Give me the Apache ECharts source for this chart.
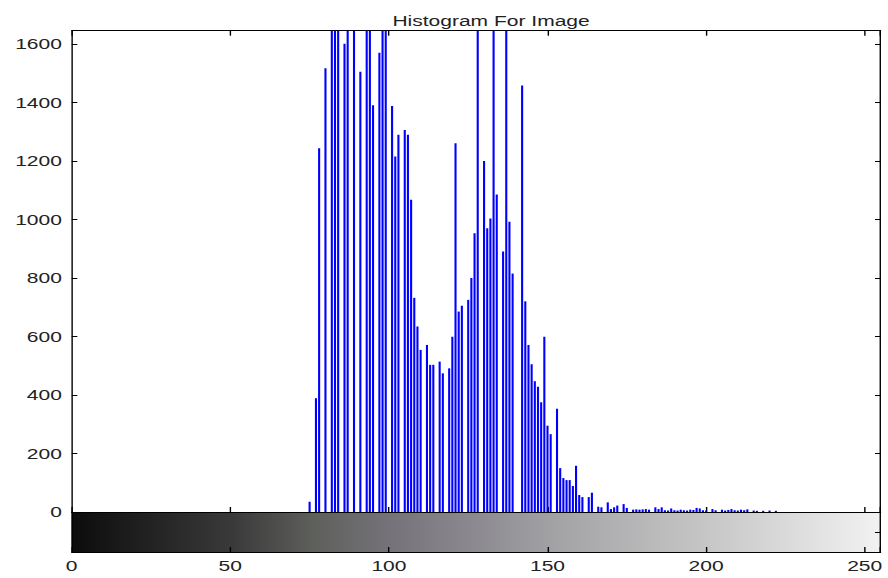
<!DOCTYPE html>
<html>
<head>
<meta charset="utf-8">
<script src="https://cdn.jsdelivr.net/npm/echarts@6/dist/echarts.min.js"></script>
<style>
html,body{margin:0;padding:0;background:#fff;overflow:hidden;}
#c{width:634px;height:578px;transform:scaleX(1.4006);transform-origin:0 0;}
</style>
</head>
<body>
<div id="c"></div>
<script>
// Gray levels (bins) that have counts, and their counts (values above 1645 are clipped in the view)
const binLevels = [
  75, 77, 78, 80, 82, 83, 84, 86, 87, 89, 91, 93, 94, 95, 97, 98, 99,
  101, 102, 103, 105, 106, 107, 108, 109, 110, 112, 113, 114, 116, 117, 119,
  120, 121, 122, 123, 125, 126, 127, 128, 130, 131, 132, 133, 134, 136, 137, 138, 139,
  142, 143, 144, 145, 146, 147, 148, 149, 150, 151, 153, 154, 155, 156, 157, 158, 159,
  160, 161, 163, 164, 166, 167, 169, 170, 171, 172, 174, 175, 177, 178, 179, 180, 181, 182,
  184, 185, 186, 187, 188, 189, 190, 191, 192, 193, 194, 195, 196, 197, 198, 199, 200,
  202, 203, 205, 206, 207, 208, 209, 210, 211, 212, 213, 215, 216, 218, 220, 222
];
const binCounts = [
  35, 389, 1243, 1517, 1900, 1750, 2000, 1600, 1800, 1700, 1505, 2100, 1850, 1390, 1570, 1680, 1780,
  1388, 1215, 1289, 1306, 1289, 1067, 732, 634, 554, 571, 503, 503, 514, 474, 491,
  599, 1260, 685, 705, 725, 800, 953, 1900, 1200, 970, 1003, 2000, 1085, 890, 1800, 992, 815,
  1458, 720, 571, 505, 447, 428, 375, 599, 295, 266, 353, 150, 116, 109, 109, 89, 158,
  58, 51, 51, 66, 18, 16, 33, 10, 16, 22, 27, 14, 8, 9, 8, 9, 10, 8,
  16, 10, 16, 6, 5, 12, 6, 5, 8, 6, 5, 8, 7, 14, 12, 6, 5,
  10, 6, 8, 5, 7, 10, 6, 5, 8, 6, 9, 5, 4, 4, 5, 4
];
const xTicks = [0, 50, 100, 150, 200, 250];
const yTickStep = 200;
const xMax = 255;
const yMax = 1645;

const chart = echarts.init(document.getElementById('c'), null, {renderer: 'svg'});
const font = 'Liberation Sans, Arial, Helvetica, sans-serif';
const black = '#000';

chart.setOption({
  backgroundColor: '#fff',
  animation: false,
  title: {
    text: 'Histogram For Image',
    left: 345.6,
    textAlign: 'center',
    top: 8,
    textStyle: {fontFamily: font, fontSize: 15, fontWeight: 'normal', color: '#222'}
  },
  grid: [
    {left: 51.2, right: 5.3, top: 30.7, bottom: 66, show: false},
    {
      left: 51.2, right: 5.3, top: 512, height: 40, show: true, borderWidth: 0,
      backgroundColor: {
        type: 'linear', x: 0, y: 0, x2: 1, y2: 0,
        colorStops: [
          {offset: 0, color: '#0c0c0c'},
          {offset: 0.2, color: '#3a3a3a'},
          {offset: 0.3, color: '#5e605c'},
          {offset: 0.4, color: '#77737b'},
          {offset: 0.5, color: '#8c8a90'},
          {offset: 0.6, color: '#a3a3a6'},
          {offset: 0.8, color: '#c9c9c9'},
          {offset: 1, color: '#f2f2f2'}
        ]
      }
    }
  ],
  xAxis: [
    {
      type: 'value', gridIndex: 0, min: 0, max: xMax, interval: 50, position: 'bottom',
      axisLine: {show: true, lineStyle: {color: black, width: 1}},
      axisTick: {show: true, inside: true, length: 5, lineStyle: {color: black}},
      axisLabel: {show: false}, splitLine: {show: false}
    },
    {
      type: 'value', gridIndex: 0, min: 0, max: xMax, interval: 50, position: 'top',
      axisLine: {show: true, onZero: false, lineStyle: {color: black, width: 1}},
      axisTick: {show: true, inside: true, length: 5, lineStyle: {color: black}},
      axisLabel: {show: false}, splitLine: {show: false}
    },
    {
      type: 'value', gridIndex: 1, min: 0, max: xMax, interval: 50, position: 'bottom',
      axisLine: {show: true, onZero: false, lineStyle: {color: black, width: 1}},
      axisTick: {show: true, inside: true, length: 5, lineStyle: {color: black}},
      axisLabel: {
        show: true, margin: 6, fontFamily: font, fontSize: 15, color: '#222',
        customValues: xTicks, formatter: v => String(v)
      },
      splitLine: {show: false}
    }
  ],
  yAxis: [
    {
      type: 'value', gridIndex: 0, min: 0, max: yMax, interval: yTickStep, position: 'left',
      axisLine: {show: true, onZero: false, lineStyle: {color: black, width: 1}},
      axisTick: {show: true, inside: true, length: 4, lineStyle: {color: black}},
      axisLabel: {show: true, margin: 7, fontFamily: font, fontSize: 15, color: '#222', showMaxLabel: false,
        formatter: v => String(v)},
      splitLine: {show: false}
    },
    {
      type: 'value', gridIndex: 0, min: 0, max: yMax, interval: yTickStep, position: 'right',
      axisLine: {show: true, onZero: false, lineStyle: {color: black, width: 1}},
      axisTick: {show: true, inside: true, length: 4, lineStyle: {color: black}},
      axisLabel: {show: false}, splitLine: {show: false}
    },
    {
      type: 'value', gridIndex: 1, min: 0, max: 1, interval: 0.5, position: 'left',
      axisLine: {show: true, onZero: false, lineStyle: {color: black, width: 1}},
      axisTick: {show: false}, axisLabel: {show: false}, splitLine: {show: false}
    },
    {
      type: 'value', gridIndex: 1, min: 0, max: 1, interval: 0.5, position: 'right',
      axisLine: {show: true, onZero: false, lineStyle: {color: black, width: 1}},
      axisTick: {show: true, inside: true, length: 4, lineStyle: {color: black}},
      axisLabel: {show: false}, splitLine: {show: false}
    }
  ],
  series: [
    {
      type: 'bar', xAxisIndex: 0, yAxisIndex: 0,
      data: binLevels.map((v, i) => [v, binCounts[i]]),
      barWidth: 1.5, clip: true,
      itemStyle: {color: '#0000ff'},
      emphasis: {disabled: true}
    }
  ]
});
</script>
</body>
</html>
